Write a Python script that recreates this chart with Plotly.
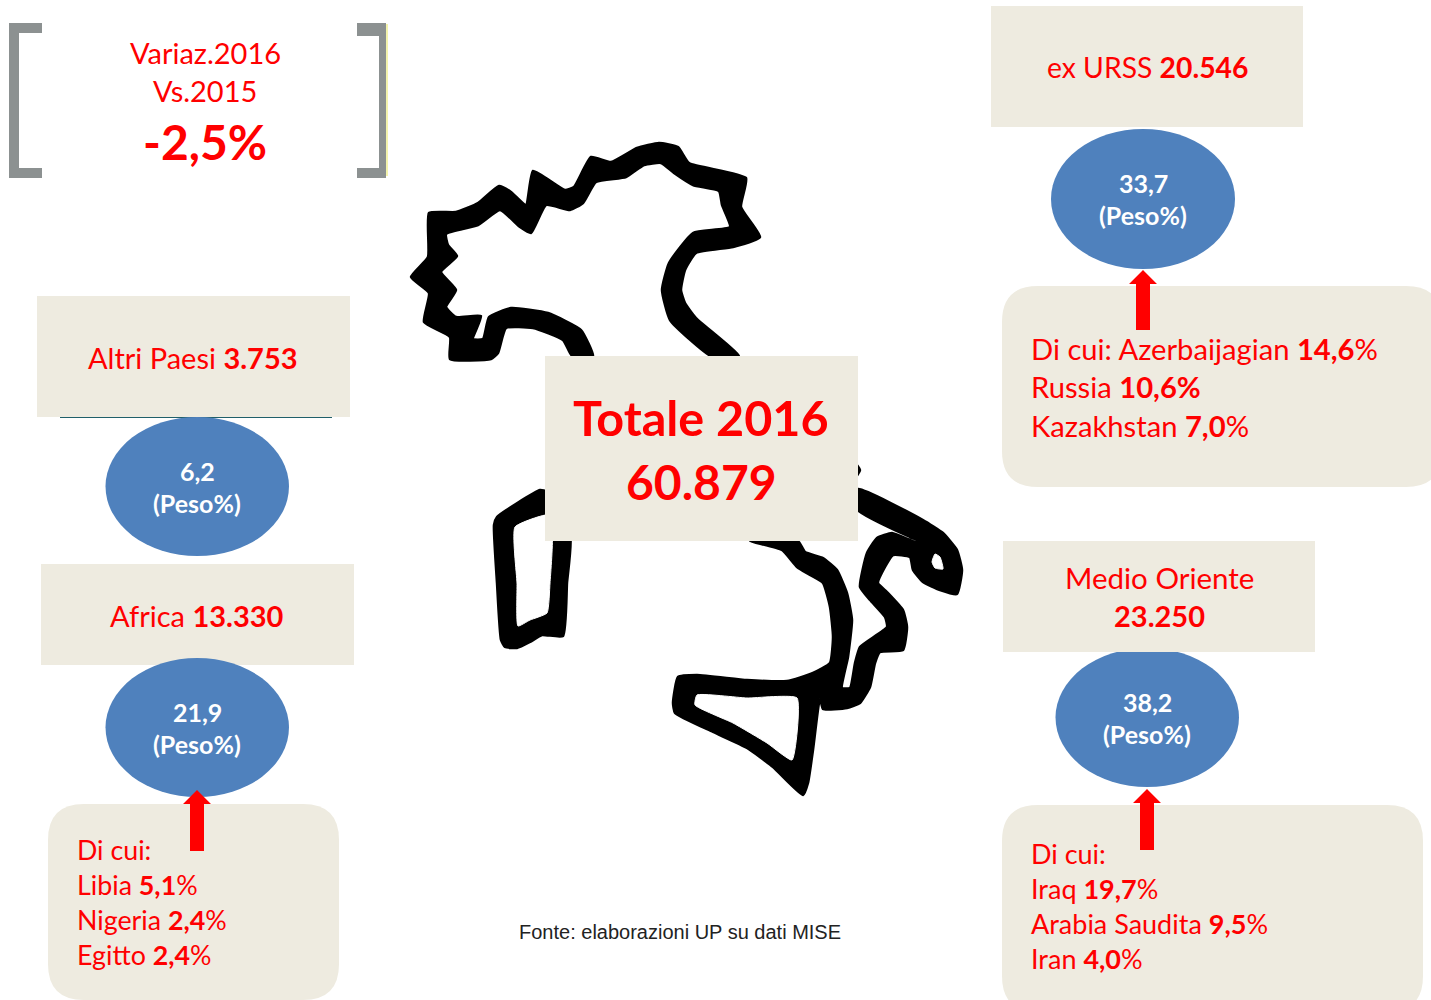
import plotly.graph_objects as go

RED = "#FF0000"
BEIGE = "#EEEBE0"
BLUE = "#4F81BD"
GREY = "#8C9191"
FONT = "Lato"

# ---- data -----------------------------------------------------------------
regions = ["ex URSS", "Altri Paesi", "Africa", "Medio Oriente"]
totals = ["20.546", "3.753", "13.330", "23.250"]
weights = ["33,7", "6,2", "21,9", "38,2"]
total_title = "Totale 2016"
total_value = "60.879"
variation = "-2,5%"
source_note = "Fonte: elaborazioni UP su dati MISE"

urss_lines = ["Di cui: Azerbaijagian <b>14,6</b>%", "Russia <b>10,6%</b>", "Kazakhstan <b>7,0</b>%"]
africa_lines = ["Di cui:", "Libia <b>5,1</b>%", "Nigeria <b>2,4</b>%", "Egitto <b>2,4</b>%"]
mo_lines = ["Di cui:", "Iraq <b>19,7</b>%", "Arabia Saudita <b>9,5</b>%", "Iran <b>4,0</b>%"]

# map outline, traced in page pixels
north = [(450,359),(450,337),(424,322),(429,293),(411,277),(428,257),(429,213),(456,212),(478,203),(499,186),
         (511,192),(526,205),(533,171),(565,190),(574,187),(591,157),(611,162),(637,148),(659,143),(678,147),
         (689,163),(746,178),(741,207),(760,237),(733,247),(696,253),(685,270),(681,290),(685,303),(696,318),
         (739,356),(711,356),(670,320),(662,290),(669,263),(693,233),(730,227),(722,205),(719,191),(693,185),
         (674,173),(661,163),(644,165),(626,177),(596,182),(583,203),(570,210),(546,205),(531,233),(520,227),
         (500,210),(478,225),(446,234),(448,245),(457,256),(441,272),(456,290),(446,307),(456,317),(481,316),
         (473,339),(483,339),(489,317),(511,308),(548,313),(581,330),(593,356),(572,356),(563,340),(533,328),
         (506,328),(498,353),(491,359)]
sardinia = [(547,492),(540,490),(497,517),(494,525),(497,583),(501,640),(505,647),(517,648),(530,642),(542,635),
            (563,636),(567,583),(570,535),(547,535)]
sardinia_hole = [(548,515),(515,527),(517,583),(518,626),(530,620),(547,613),(550,583),(552,535),(548,535)]
south = [(858,489),(923,520),(943,533),(957,550),(962,570),(957,594),(940,590),(923,582),(913,570),(910,557),
         (893,555),(885,567),(878,583),(887,592),(903,610),(907,627),(903,650),(880,652),(875,663),(870,687),
         (860,703),(847,708),(823,709),(820,698),(813,750),(808,783),(803,795),(773,767),(747,748),(713,732),
         (675,713),(673,703),(678,677),(697,675),(747,680),(787,681),(813,673),(830,663),(833,637),(830,607),
         (823,583),(810,575),(797,567),(782,550),(750,541),(798,541),(805,552),(823,558),(837,570),(847,593),
         (852,620),(848,657),(842,688),(850,688),(855,663),(860,647),(887,627),(885,617),(870,600),(860,587),
         (867,553),(877,538),(892,533),(915,542),(925,543),(910,537),(858,510)]
sicily_hole = [(697,695),(695,705),(733,723),(767,743),(792,760),(797,698),(747,698)]
gargano_hole = [(932,562),(935,554),(940,557),(943,569),(935,568)]
north_tip = [(855,463),(860,470),(855,478)]

fig = go.Figure()

def poly(pts, color, width=1, smooth=0.45):
    xs = [p[0] for p in pts] + [pts[0][0]]
    ys = [p[1] for p in pts] + [pts[0][1]]
    fig.add_trace(go.Scatter(x=xs, y=ys, mode="lines", fill="toself", fillcolor=color,
                             line=dict(color=color, width=width, shape="spline", smoothing=smooth),
                             hoverinfo="skip", showlegend=False))

for part in (north, sardinia, south, north_tip):
    poly(part, "#000000", width=2.5)
for part in (sardinia_hole, sicily_hole, gargano_hole):
    poly(part, "#FFFFFF")

shapes = []

def rect(x0, y0, x1, y1, color=BEIGE):
    shapes.append(dict(type="rect", x0=x0, y0=y0, x1=x1, y1=y1, fillcolor=color, line_width=0, layer="above"))

def ellipse(x0, y0, x1, y1):
    shapes.append(dict(type="circle", x0=x0, y0=y0, x1=x1, y1=y1, fillcolor=BLUE, line_width=0, layer="above"))

def rounded(x0, y0, x1, y1, r=36):
    p = (f"M{x0+r},{y0} L{x1-r},{y0} Q{x1},{y0} {x1},{y0+r} L{x1},{y1-r} Q{x1},{y1} {x1-r},{y1} "
         f"L{x0+r},{y1} Q{x0},{y1} {x0},{y1-r} L{x0},{y0+r} Q{x0},{y0} {x0+r},{y0} Z")
    shapes.append(dict(type="path", path=p, fillcolor=BEIGE, line_width=0, layer="above"))

def arrow(cx, tip, bottom):
    p = (f"M{cx},{tip} L{cx+14},{tip+14} L{cx+7},{tip+14} L{cx+7},{bottom} L{cx-7},{bottom} "
         f"L{cx-7},{tip+14} L{cx-14},{tip+14} Z")
    shapes.append(dict(type="path", path=p, fillcolor=RED, line_width=0, layer="above"))

# brackets
shapes.append(dict(type="path", path="M42,23 L9,23 L9,178 L42,178 L42,168 L19,168 L19,33 L42,33 Z",
                   fillcolor=GREY, line_width=0, layer="above"))
shapes.append(dict(type="path", path="M357,23 L386,23 L386,178 L357,178 L357,168 L379,168 L379,36 L357,36 Z",
                   fillcolor=GREY, line_width=0, layer="above"))
shapes.append(dict(type="line", x0=387, y0=24, x1=387, y1=176, line=dict(color="#EFEF90", width=1.5), layer="above"))

rect(991, 6, 1303, 127)
rect(37, 296, 350, 417)
rect(545, 356, 858, 541)
rect(41, 564, 354, 665)
shapes.append(dict(type="line", x0=60, y0=417.5, x1=332, y1=417.5, line=dict(color="#1F5F6A", width=1), layer="above"))
rounded(1002, 286, 1442, 487)
rounded(48, 804, 339, 1000)
rounded(1002, 805, 1423, 1012)
ellipse(1051, 129, 1235, 269)
ellipse(105.5, 417, 289, 556)
ellipse(105.5, 658, 289, 797)
ellipse(1055.5, 648, 1239, 787)
rect(1003, 541, 1315, 652)
arrow(1143, 270, 330)
arrow(197, 790, 851)
arrow(1147, 789, 850)

annotations = []

def text(x, y, s, size, color=RED, anchor="center", family=FONT):
    annotations.append(dict(x=x, y=y, text=s, showarrow=False, xanchor=anchor, yanchor="middle",
                            font=dict(family=family, size=size, color=color)))

text(205, 52, "Variaz.2016", 29)
text(205, 90, "Vs.2015", 29)
text(205, 141, f"<b>{variation}</b>", 48)

text(1147, 67, f"{regions[0]} <b>{totals[0]}</b>", 28.3)
text(193, 357, f"{regions[1]} <b>{totals[1]}</b>", 29)
text(197, 615, f"{regions[2]} <b>{totals[2]}</b>", 29)
text(1159, 577, regions[3], 29.5)
text(1159, 615, f"<b>{totals[3]}</b>", 29)

text(701, 417, f"<b>{total_title}</b>", 48.5)
text(701, 481, f"<b>{total_value}</b>", 48)

for (cx, cy), w in zip([(1143, 183), (197, 471), (197, 712), (1147, 702)], weights):
    text(cx, cy, f"<b>{w}</b>", 25, "#FFFFFF")
    text(cx, cy + 32, "<b>(Peso%)</b>", 25, "#FFFFFF")

for y, s in zip([348, 386, 425], urss_lines):
    text(1029, y, s, 29.2, anchor="left")
for y, s in zip([850, 885, 920, 955], africa_lines):
    text(75, y, s, 26.8, anchor="left")
for y, s in zip([853, 888, 923, 958], mo_lines):
    text(1029, y, s, 27, anchor="left")

text(680, 932, source_note, 20, "#222222", family="Liberation Sans")

fig.update_layout(
    width=1431, height=1000, margin=dict(l=0, r=0, t=0, b=0),
    paper_bgcolor="#FFFFFF", plot_bgcolor="#FFFFFF", showlegend=False,
    xaxis=dict(range=[0, 1431], visible=False, fixedrange=True),
    yaxis=dict(range=[1000, 0], visible=False, fixedrange=True),
    shapes=shapes, annotations=annotations,
)
fig.write_html("out.html", config={"displayModeBar": False},
               post_script="document.body.style.margin='0';document.body.style.overflow='hidden';")
